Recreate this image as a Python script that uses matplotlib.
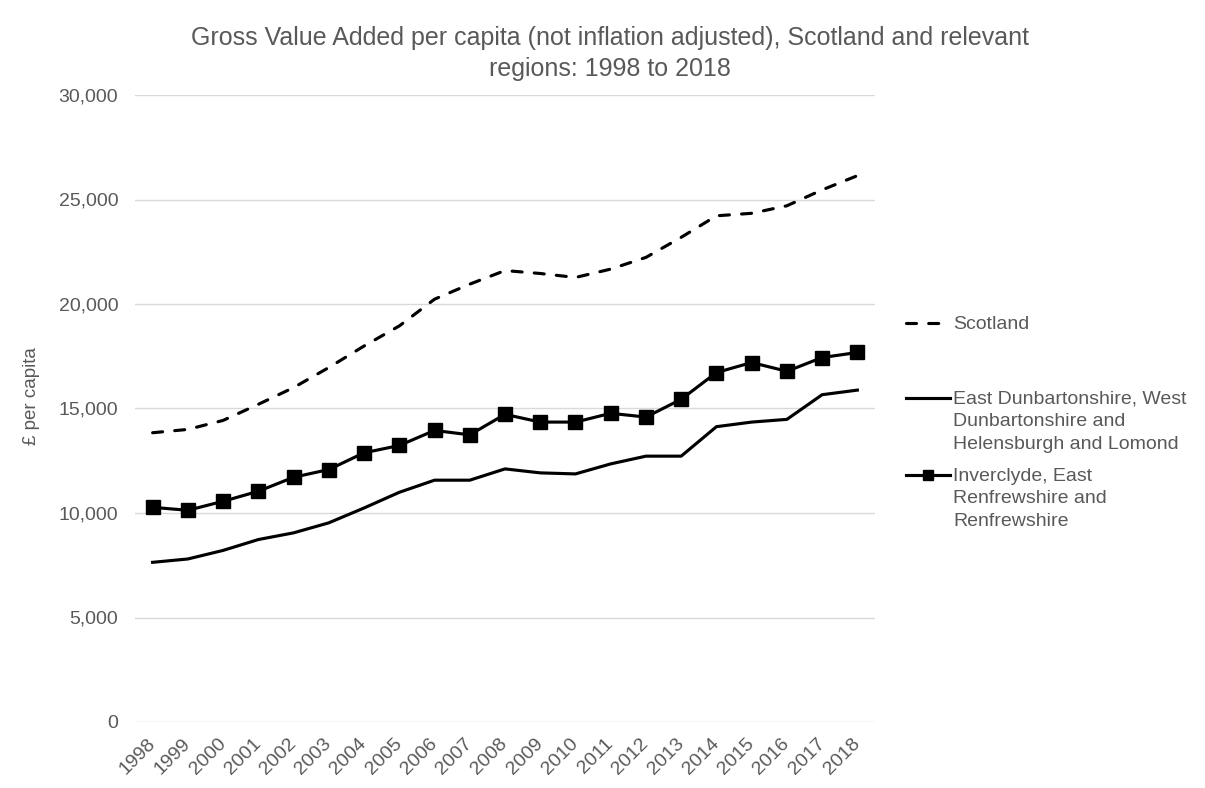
import matplotlib.pyplot as plt
from matplotlib.lines import Line2D
import numpy as np

plt.rcParams['font.family'] = ['Liberation Sans', 'DejaVu Sans']

years = [str(y) for y in range(1998, 2019)]

scotland = [13840, 14000, 14430, 15200, 16000, 16960, 17990, 18950, 20230, 20950,
            21600, 21460, 21270, 21670, 22230, 23190, 24220, 24340, 24700, 25460, 26140]
east_dunbartonshire = [7640, 7800, 8210, 8730, 9050, 9530, 10240, 10990, 11570, 11570,
                       12110, 11920, 11870, 12350, 12720, 12720, 14130, 14350, 14480, 15660, 15880]
inverclyde = [10270, 10130, 10560, 11040, 11710, 12080, 12880, 13230, 13950, 13740,
              14720, 14350, 14350, 14770, 14590, 15440, 16720, 17200, 16780, 17440, 17680]

labels = ['Scotland',
          'East Dunbartonshire, West\nDunbartonshire and\nHelensburgh and Lomond',
          'Inverclyde, East\nRenfrewshire and\nRenfrewshire']

grey = '#595959'
x = np.arange(len(years))

fig = plt.figure(figsize=(12.05, 7.88), dpi=100)
ax = fig.add_axes([135 / 1205, 1 - 722 / 788, 740 / 1205, 627 / 788])

dash_style = dict(color='black', lw=2.25, linestyle=(0, (3.2, 3.9)), dash_capstyle='round')
ax.plot(x, scotland, **dash_style)
ax.plot(x, east_dunbartonshire, color='black', lw=2.25)
ax.plot(x, inverclyde, color='black', lw=2.25, marker='s', markersize=9.5)

ax.set_xlim(-0.5, len(years) - 0.5)
ax.set_ylim(0, 30000)
ax.set_yticks(np.arange(0, 30001, 5000))
ax.set_yticklabels([f'{v:,}' for v in range(0, 30001, 5000)])
ax.set_xticks(x)
ax.set_xticklabels(years, rotation=45, ha='right', va='center', rotation_mode='anchor')
ax.tick_params(axis='both', length=0, labelsize=14, labelcolor=grey)
ax.tick_params(axis='y', pad=12)
ax.tick_params(axis='x', pad=14)
ax.grid(axis='y', color='#d9d9d9', lw=1)
ax.set_axisbelow(True)
for s in ax.spines.values():
    s.set_visible(False)

ax.set_ylabel('£ per capita', fontsize=13.5, color=grey)
ax.yaxis.set_label_coords(-0.128, 0.52)

fig.text(0.506, 1 - 26 / 788,
         'Gross Value Added per capita (not inflation adjusted), Scotland and relevant\nregions: 1998 to 2018',
         ha='center', va='top', fontsize=18, color=grey, linespacing=1.38)

# legend drawn by hand so the handles sit on the first text line
H = 788.0
W = 1205.0
entries = [(labels[0], 323, dash_style),
           (labels[1], 398, dict(color='black', lw=2.25)),
           (labels[2], 475, dict(color='black', lw=2.25))]
for i, (lab, yy, st) in enumerate(entries):
    fig.add_artist(Line2D([906 / W, 950 / W], [1 - yy / H, 1 - yy / H], transform=fig.transFigure, **st))
    if i == 2:
        fig.add_artist(Line2D([928 / W], [1 - yy / H], transform=fig.transFigure,
                              marker='s', markersize=7, color='black'))
    fig.text(953 / W, 1 - (yy - 7) / H, lab, ha='left', va='top', fontsize=14,
             color=grey, linespacing=1.42)

fig.savefig('out.png', dpi=100)
